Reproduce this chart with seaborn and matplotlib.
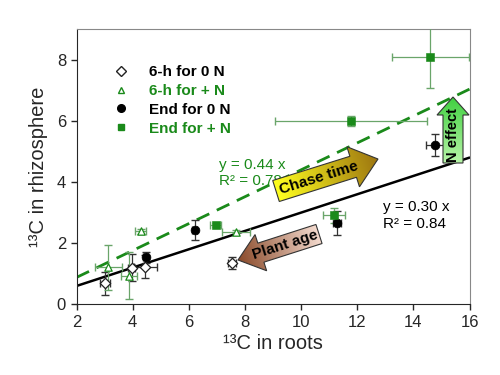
import numpy as np
import matplotlib
matplotlib.use('Agg')
import matplotlib.pyplot as plt
import seaborn as sns
from matplotlib.patches import Polygon
from matplotlib.colors import LinearSegmentedColormap
from matplotlib.lines import Line2D

sns.set_style('ticks')
plt.rcParams['font.family'] = ['Liberation Sans', 'DejaVu Sans']

green = '#1a8a1a'
ebar_green = '#6aa56a'

# 6-h for 0 N (open diamonds)
d_x = [3.0, 3.96, 4.45, 7.53]
d_y = [0.69, 1.2, 1.23, 1.34]
d_xerr = [0.18, 0.12, 0.41, 0.15]
d_yerr = [0.37, 0.45, 0.38, 0.2]

# 6-h for + N (open triangles)
t_x = [3.13, 3.87, 4.28, 7.67]
t_y = [1.21, 0.93, 2.39, 2.38]
t_xerr = [0.48, 0.3, 0.2, 0.5]
t_yerr = [0.74, 0.77, 0.08, 0.06]

# End for 0 N (filled circles)
c_x = [4.46, 6.21, 11.28, 14.78]
c_y = [1.54, 2.43, 2.66, 5.21]
c_xerr = [0.1, 0.1, 0.15, 0.33]
c_yerr = [0.18, 0.32, 0.38, 0.36]

# End for + N (filled squares)
s_x = [6.96, 11.18, 11.78, 14.6]
s_y = [2.6, 2.91, 5.99, 8.09]
s_xerr = [0.2, 0.4, 2.7, 1.37]
s_yerr = [0.06, 0.25, 0.17, 1.02]

# regression slopes
slope_0n = 0.30
slope_pn = 0.44
line_x = np.array([2, 16])

fig = plt.figure(figsize=(5, 3.75), dpi=100)
ax = fig.add_axes([0.153, 0.1885, 0.786, 0.7335])

# fitted lines
sns.lineplot(x=line_x, y=slope_pn * line_x, ax=ax, color=green, lw=2,
             linestyle=(0, (5, 3)), zorder=2)
sns.lineplot(x=line_x, y=slope_0n * line_x, ax=ax, color='black', lw=1.8, zorder=2)

# error bars
ax.errorbar(d_x, d_y, xerr=d_xerr, yerr=d_yerr, fmt='none', ecolor='#333333', elinewidth=0.9, capsize=3, zorder=3)
ax.errorbar(t_x, t_y, xerr=t_xerr, yerr=t_yerr, fmt='none', ecolor=ebar_green, elinewidth=0.9, capsize=3, zorder=3)
ax.errorbar(c_x, c_y, xerr=c_xerr, yerr=c_yerr, fmt='none', ecolor='#333333', elinewidth=0.9, capsize=3, zorder=3)
ax.errorbar(s_x, s_y, xerr=s_xerr, yerr=s_yerr, fmt='none', ecolor=ebar_green, elinewidth=0.9, capsize=3, zorder=3)

# points
sns.scatterplot(x=d_x, y=d_y, ax=ax, marker='D', s=28, facecolor='white', edgecolor='#222222', linewidth=0.9, zorder=4)
sns.scatterplot(x=t_x, y=t_y, ax=ax, marker='^', s=28, facecolor='white', edgecolor=green, linewidth=0.9, zorder=4)
sns.scatterplot(x=c_x, y=c_y, ax=ax, marker='o', s=40, color='black', edgecolor='black', zorder=4)
sns.scatterplot(x=s_x, y=s_y, ax=ax, marker='s', s=28, color=green, edgecolor=green, zorder=4)

ax.set_xlim(2, 16)
ax.set_ylim(0, 9)
ax.set_xticks(range(2, 17, 2))
ax.set_yticks(range(0, 9, 2))
ax.tick_params(labelsize=12, direction='out', length=4, width=1)
for side in ['top', 'right']:
    ax.spines[side].set_color('#888888')
ax.set_xlabel('¹³C in roots', fontsize=14.5, labelpad=3)
ax.set_ylabel('¹³C in rhizosphere', fontsize=14.5, labelpad=6)

# regression text
ax.text(7.07, 4.57, 'y = 0.44 x', color=green, fontsize=11, va='center', ha='left')
ax.text(7.07, 4.05, 'R² = 0.78', color=green, fontsize=11, va='center', ha='left')
ax.text(12.93, 3.18, 'y = 0.30 x', color='black', fontsize=11, va='center', ha='left')
ax.text(12.93, 2.63, 'R² = 0.84', color='black', fontsize=11, va='center', ha='left')

# legend
handles = [
    Line2D([], [], marker='D', ls='none', ms=5, mfc='white', mec='#222222'),
    Line2D([], [], marker='^', ls='none', ms=5, mfc='white', mec=green),
    Line2D([], [], marker='o', ls='none', ms=5.5, mfc='black', mec='black'),
    Line2D([], [], marker='s', ls='none', ms=5, mfc=green, mec=green),
]
labels = ['6-h for 0 N', '6-h for + N', 'End for 0 N', 'End for + N']
leg = ax.legend(handles, labels, loc='upper left', bbox_to_anchor=(0.055, 0.92),
                frameon=False, prop={'weight': 'bold', 'size': 11},
                handletextpad=1.2, labelspacing=0.32, handlelength=1.2)
for txt, col in zip(leg.get_texts(), ['black', green, 'black', green]):
    txt.set_color(col)

# overlay for gradient arrows (pixel coordinates)
ov = fig.add_axes([0, 0, 1, 1], zorder=5)
ov.set_xlim(0, 500)
ov.set_ylim(375, 0)
ov.axis('off')
ov.patch.set_alpha(0)


def grad_arrow(tail, tip, body_w, head_w, head_l, c0, c1, label, fs=11):
    tail = np.array(tail, float)
    tip = np.array(tip, float)
    d = tip - tail
    L = np.hypot(*d)
    u = d / L
    n = np.array([-u[1], u[0]])
    b = tip - u * head_l
    pts = [tail + n * body_w / 2, b + n * body_w / 2, b + n * head_w / 2, tip,
           b - n * head_w / 2, b - n * body_w / 2, tail - n * body_w / 2]
    pts = np.array(pts)
    poly = Polygon(pts, closed=True, fc='none', ec='#333333', lw=0.8, zorder=3)
    ov.add_patch(poly)
    x0, y0 = pts.min(axis=0)
    x1, y1 = pts.max(axis=0)
    gx, gy = np.meshgrid(np.linspace(x0, x1, 200), np.linspace(y0, y1, 200))
    proj = ((gx - tail[0]) * u[0] + (gy - tail[1]) * u[1]) / L
    cmap = LinearSegmentedColormap.from_list('g', [c0, c1])
    im = ov.imshow(proj, extent=(x0, x1, y1, y0), cmap=cmap, vmin=0, vmax=1,
                   aspect='auto', origin='upper', zorder=2, interpolation='bilinear')
    im.set_clip_path(poly)
    ang = np.degrees(np.arctan2(-d[1], d[0]))
    if ang > 90:
        ang -= 180
    elif ang < -90:
        ang += 180
    mid = tail + d * 0.42
    ov.text(mid[0], mid[1], label, rotation=ang, rotation_mode='anchor', ha='center', va='center',
            fontsize=fs, fontweight='bold', color='black', zorder=4)


grad_arrow((276, 191), (378, 159), 22, 42, 26, '#ffff20', '#9c7410', 'Chase time')
grad_arrow((319, 234), (238, 260), 20, 38, 24, '#f5dcd0', '#8a4a2a', 'Plant age')
grad_arrow((453, 163), (453, 97), 20, 32, 18, '#b8f5a8', '#40d040', 'N effect', fs=10.5)
ov.set_xlim(0, 500)
ov.set_ylim(375, 0)

fig.savefig('out.png', dpi=100)
